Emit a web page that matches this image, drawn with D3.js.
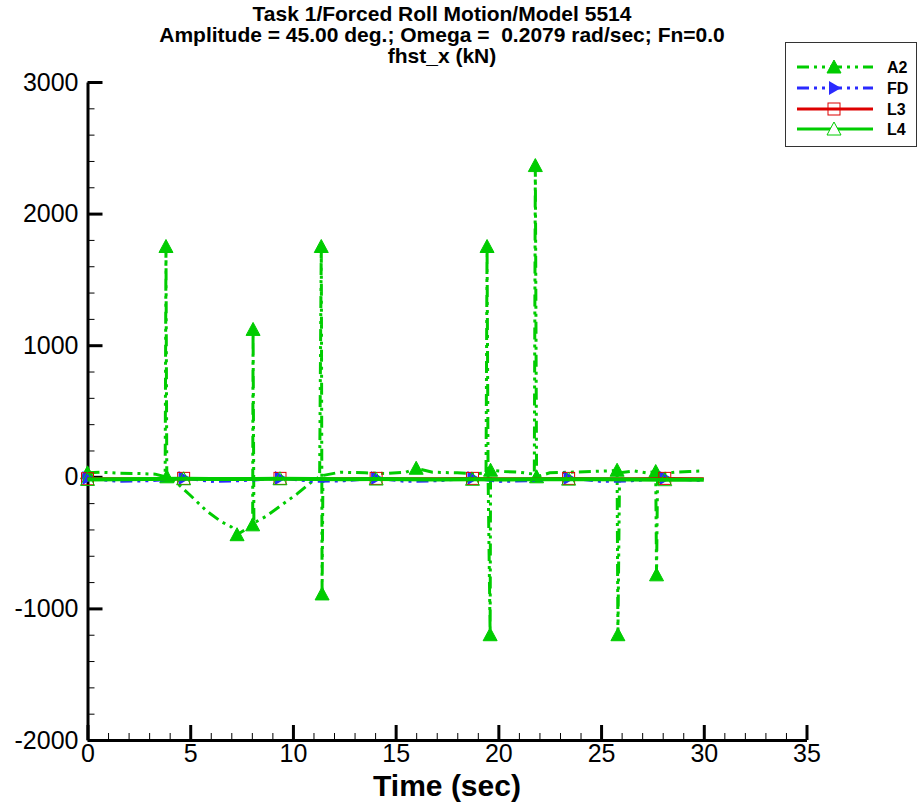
<!DOCTYPE html>
<html>
<head>
<meta charset="utf-8">
<script src="https://cdn.jsdelivr.net/npm/d3@7"></script>
<style>
  html, body { margin: 0; padding: 0; background: #fff; }
  svg { display: block; font-family: "Liberation Sans", Arial, sans-serif; }
</style>
</head>
<body>
<svg id="chart" width="922" height="805"></svg>
<script>
// ---------------- data ----------------
const titleLines = [
  "Task 1/Forced Roll Motion/Model 5514",
  "Amplitude = 45.00 deg.; Omega =  0.2079 rad/sec; Fn=0.0",
  "fhst_x (kN)"
];
const xLabel = "Time (sec)";
const xTicks = [0, 5, 10, 15, 20, 25, 30, 35];
const yTicks = [-2000, -1000, 0, 1000, 2000, 3000];
const seriesNames = ["A2", "FD", "L3", "L4"];

// A2 (time, value) samples
const a2Time = [0, 0.6, 1.5, 2.5, 3.3, 3.78, 3.82, 3.86, 4.3, 5.0, 5.8, 6.5, 7.0, 7.28,
  8.04, 8.06, 8.1, 8.7, 9.4, 10.2, 10.9, 11.3, 11.38, 11.42, 11.46, 12.3, 13.5, 14.5,
  15.5, 16.0, 16.8, 18.0, 19.0, 19.4, 19.45, 19.5, 19.6, 19.62, 20.3, 21.0, 21.75, 21.8,
  21.86, 22.5, 23.5, 24.5, 25.4, 25.78, 25.82, 25.9, 26.6, 27.2, 27.66, 27.7, 27.75,
  28.6, 29.3, 30.0];
const a2Value = [30, 35, 28, 25, 20, 0, 1750, 0, -40, -140, -260, -340, -380, -440,
  -365, 1120, -350, -300, -220, -130, -40, 0, 1750, -890, 10, 35, 30, 25,
  35, 65, 35, 30, 25, 30, 1750, 10, -1200, 50, 40, 35, 20, 2365,
  0, 30, 35, 40, 45, 50, -1200, 30, 45, 30, 40, -745, 20,
  35, 40, 45];
// indices of A2 samples carrying a symbol
const a2Symbols = [0, 6, 7, 13, 14, 15, 22, 23, 29, 34, 36, 37, 41, 42, 47, 48, 52, 53];

// FD, L3, L4 share one time base
const lTime = [0, 1.5, 3, 4.68, 6, 7.5, 9.37, 11, 12.5, 14.05, 15.5, 17, 18.74, 20, 21.5,
  23.42, 25, 26.5, 28.1, 30];
const fdValue = [-10, -35, -30, -10, -35, -30, -10, -35, -30, -10, -35, -30, -10, -35, -30,
  -10, -35, -30, -10, -30];
const l3Value = [-15, -15, -16, -12, -14, -15, -12, -14, -15, -12, -14, -15, -12, -14, -15,
  -12, -14, -15, -12, -15];
const l4Value = [-20, -18, -17, -15, -16, -17, -15, -16, -18, -17, -18, -20, -19, -20, -19,
  -18, -19, -20, -22, -22];
const lSymbols = [0, 3, 6, 9, 12, 15, 18];

// ---------------- drawing ----------------
const GREEN = "#00cc00", BLUE = "#2a2aff", RED = "#dd0000";
const svg = d3.select("#chart");
const x = d3.scaleLinear().domain([0, 35]).range([87.5, 806.5]);
const y = d3.scaleLinear().domain([-2000, 3000]).range([740, 82]);

// title
svg.append("g").selectAll("text").data(titleLines).join("text")
  .attr("x", 442).attr("y", (d, i) => 21 + i * 21)
  .attr("text-anchor", "middle")
  .attr("font-size", 21).attr("font-weight", "bold")
  .style("white-space", "pre").attr("xml:space", "preserve")
  .text(d => d);

// axes
const minorX = d3.range(0, 36, 1).filter(v => v % 5 !== 0);
const minorY = d3.range(-2000, 3001, 200).filter(v => v % 1000 !== 0);

const gxMinor = svg.append("g").attr("transform", "translate(0,740)")
  .call(d3.axisBottom(x).tickValues(minorX).tickSize(-7).tickSizeOuter(0).tickFormat(""));
gxMinor.select(".domain").remove();
gxMinor.selectAll("line").attr("stroke", "#000").attr("stroke-width", 1);

const gyMinor = svg.append("g").attr("transform", "translate(87.5,0)")
  .call(d3.axisLeft(y).tickValues(minorY).tickSize(-7).tickSizeOuter(0).tickFormat(""));
gyMinor.select(".domain").remove();
gyMinor.selectAll("line").attr("stroke", "#000").attr("stroke-width", 1);

const gx = svg.append("g").attr("transform", "translate(0,740)")
  .call(d3.axisBottom(x).tickValues(xTicks).tickSize(-15).tickSizeOuter(0).tickPadding(4)
    .tickFormat(d => String(d)));
gx.select(".domain").attr("stroke", "#000").attr("stroke-width", 3);
gx.selectAll(".tick line").attr("stroke", "#000").attr("stroke-width", 3);
gx.selectAll("text").attr("font-size", 25).attr("fill", "#000")
  .attr("font-family", "Liberation Sans, Arial, sans-serif");

const gy = svg.append("g").attr("transform", "translate(87.5,0)")
  .call(d3.axisLeft(y).tickValues(yTicks).tickSize(-15).tickSizeOuter(0).tickPadding(9)
    .tickFormat(d => String(d)));
gy.select(".domain").attr("stroke", "#000").attr("stroke-width", 3);
gy.selectAll(".tick line").attr("stroke", "#000").attr("stroke-width", 3);
gy.selectAll("text").attr("font-size", 25).attr("fill", "#000")
  .attr("font-family", "Liberation Sans, Arial, sans-serif");

svg.append("text").attr("x", 447).attr("y", 796).attr("text-anchor", "middle")
  .attr("font-size", 30).attr("font-weight", "bold").text(xLabel);

// marker shapes
function triUp(g, cx, cy, fill, stroke) {
  g.append("path").attr("d", `M${cx},${cy - 7}L${cx + 7},${cy + 6}L${cx - 7},${cy + 6}Z`)
    .attr("fill", fill).attr("stroke", stroke).attr("stroke-width", 1);
}
function triRight(g, cx, cy, fill) {
  g.append("path").attr("d", `M${cx + 7},${cy}L${cx - 5},${cy - 7}L${cx - 5},${cy + 7}Z`)
    .attr("fill", fill);
}
function square(g, cx, cy, stroke) {
  g.append("rect").attr("x", cx - 6).attr("y", cy - 6).attr("width", 12).attr("height", 12)
    .attr("fill", "none").attr("stroke", stroke).attr("stroke-width", 1);
}

const plot = svg.append("g");
const line = d3.line().x(d => x(d[0])).y(d => y(d[1]));

// A2
const a2 = a2Time.map((t, i) => [t, a2Value[i]]);
plot.append("path").datum(a2).attr("d", line).attr("fill", "none")
  .attr("stroke", GREEN).attr("stroke-width", 3)
  .attr("stroke-dasharray", "12,5,3,5,3,5");
a2Symbols.forEach(i => triUp(plot, x(a2[i][0]), y(a2[i][1]), GREEN, GREEN));

// FD
const fd = lTime.map((t, i) => [t, fdValue[i]]);
plot.append("path").datum(fd).attr("d", line).attr("fill", "none")
  .attr("stroke", BLUE).attr("stroke-width", 3)
  .attr("stroke-dasharray", "12,5,3,5,3,5");
lSymbols.forEach(i => triRight(plot, x(fd[i][0]), y(fd[i][1]), BLUE));

// L3
const l3 = lTime.map((t, i) => [t, l3Value[i]]);
plot.append("path").datum(l3).attr("d", line).attr("fill", "none")
  .attr("stroke", RED).attr("stroke-width", 3);
lSymbols.forEach(i => square(plot, x(l3[i][0]), y(l3[i][1]), RED));

// L4
const l4 = lTime.map((t, i) => [t, l4Value[i]]);
plot.append("path").datum(l4).attr("d", line).attr("fill", "none")
  .attr("stroke", GREEN).attr("stroke-width", 4);
lSymbols.forEach(i => triUp(plot, x(l4[i][0]), y(l4[i][1]), "none", GREEN));

// legend
const lg = svg.append("g");
lg.append("rect").attr("x", 785.5).attr("y", 42.5).attr("width", 131).attr("height", 104)
  .attr("fill", "#fff").attr("stroke", "#333").attr("stroke-width", 1);
const legY = [67, 88, 109, 129];
const legStyles = [
  { c: GREEN, dash: "12,5,3,5,3,5", w: 3 },
  { c: BLUE, dash: "12,5,3,5,3,5", w: 3 },
  { c: RED, dash: null, w: 3 },
  { c: GREEN, dash: null, w: 3 }
];
seriesNames.forEach((name, i) => {
  const s = legStyles[i];
  lg.append("line").attr("x1", 797).attr("x2", 873).attr("y1", legY[i]).attr("y2", legY[i])
    .attr("stroke", s.c).attr("stroke-width", s.w)
    .attr("stroke-dasharray", s.dash);
  if (i === 0) triUp(lg, 834, legY[i], GREEN, GREEN);
  if (i === 1) triRight(lg, 834, legY[i], BLUE);
  if (i === 2) square(lg, 834, legY[i], RED);
  if (i === 3) triUp(lg, 834, legY[i], "#fff", GREEN);
  lg.append("text").attr("x", 887).attr("y", legY[i] + 6).attr("font-size", 16)
    .attr("font-weight", "bold").text(name);
});
</script>
</body>
</html>
